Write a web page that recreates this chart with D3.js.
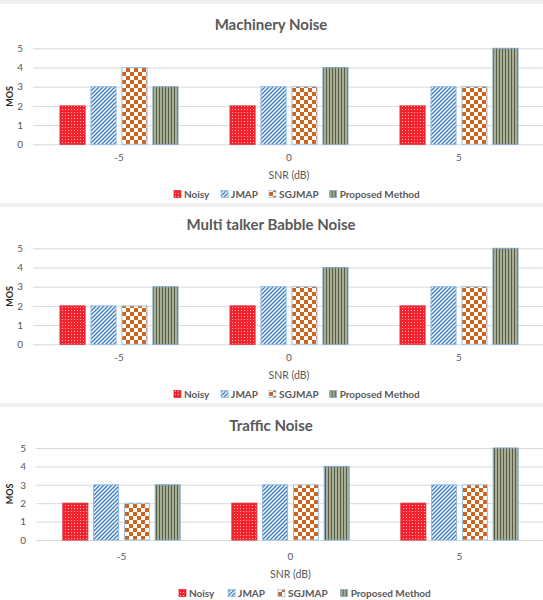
<!DOCTYPE html>
<html><head><meta charset="utf-8">
<script src="https://cdn.jsdelivr.net/npm/d3@7"></script>
<style>body{margin:0;background:#fff}svg{display:block}</style>
</head><body><div id="chart"></div>
<script>
const categories = ["-5", "0", "5"];
const seriesNames = ["Noisy", "JMAP", "SGJMAP", "Proposed Method"];
const titles = ["Machinery Noise", "Multi talker Babble Noise", "Traffic Noise"];
const machinery = [[2, 3, 4, 3], [2, 3, 3, 4], [2, 3, 3, 5]];
const babble    = [[2, 2, 2, 3], [2, 3, 3, 4], [2, 3, 3, 5]];
const traffic   = [[2, 3, 2, 3], [2, 3, 3, 4], [2, 3, 3, 5]];
const yTicks = [0, 1, 2, 3, 4, 5];
const xTitle = "SNR (dB)";
const yTitle = "MOS";

const W = 543, H = 600;
const svg = d3.select("#chart").append("svg").attr("width", W).attr("height", H);
const defs = svg.append("defs");

function pat(id, w, h, build) {
  const p = defs.append("pattern").attr("id", id).attr("patternUnits", "userSpaceOnUse")
    .attr("width", w).attr("height", h);
  build(p);
}
pat("p0", 3, 3, p => {
  p.append("rect").attr("width", 3).attr("height", 3).attr("fill", "#f5222d");
  p.append("rect").attr("x", 1).attr("y", 1).attr("width", 1).attr("height", 1).attr("fill", "#ffb3b8");
});
pat("p1", 4, 4, p => {
  p.append("rect").attr("width", 4).attr("height", 4).attr("fill", "#fff");
  p.append("path").attr("d", "M-1,1 L1,-1 M0,4 L4,0 M3,5 L5,3").attr("stroke", "#3a7cc4").attr("stroke-width", 1.4);
});
pat("p2", 8, 8, p => {
  p.append("rect").attr("width", 8).attr("height", 8).attr("fill", "#fff");
  p.append("rect").attr("width", 4).attr("height", 4).attr("fill", "#d0621c");
  p.append("rect").attr("x", 4).attr("y", 4).attr("width", 4).attr("height", 4).attr("fill", "#d0621c");
});
pat("p3", 3, 3, p => {
  p.append("rect").attr("width", 3).attr("height", 3).attr("fill", "#a9ad93");
  p.append("rect").attr("x", 2).attr("width", 0.8).attr("height", 3).attr("fill", "#3f4a34");
});
const fills = ["url(#p0)", "url(#p1)", "url(#p2)", "url(#p3)"];
const strokes = ["#e0303a", "#8fb8e0", "#9cc2e6", "#7ea6cf"];

const font = "Lato, 'Open Sans', sans-serif";
const grey = "#595959";

const panels = [
  {data: machinery, y5: 48.3, y0: 144.3, x0: 34, x1: 544, titleY: 30, xlabY: 161, snrY: 179, legY: 198, legC: 297, legGap: 11},
  {data: babble,    y5: 248.3, y0: 344.3, x0: 34, x1: 544, titleY: 230, xlabY: 361, snrY: 379, legY: 398, legC: 297, legGap: 11},
  {data: traffic,   y5: 448, y0: 540, x0: 37, x1: 544, titleY: 431, xlabY: 560, snrY: 578, legY: 597, legC: 305, legGap: 13}
];

[0, 203, 403].forEach(s => {
  svg.append("rect").attr("x", 0).attr("y", s).attr("width", W).attr("height", 4).attr("fill", "#f0f0f0");
});

panels.forEach((P, pi) => {
  const g = svg.append("g");
  const y = d3.scaleLinear().domain([0, 5]).range([P.y0, P.y5]);
  const x = d3.scaleBand().domain(categories).range([P.x0, P.x1]).paddingInner(0).paddingOuter(0);
  const xs = d3.scaleBand().domain(seriesNames).range([0, x.bandwidth()]).paddingInner(0.19).paddingOuter(0.84);

  g.append("text").attr("x", 271).attr("y", P.titleY).attr("text-anchor", "middle")
    .attr("font-family", font).attr("font-weight", "bold").attr("font-size", 15).attr("fill", grey)
    .text(titles[pi]);

  const yAxis = d3.axisLeft(y).tickValues(yTicks).tickSize(-(P.x1 - P.x0 + 2)).tickPadding(10).tickFormat(d3.format("d"));
  const ya = g.append("g").attr("transform", `translate(${P.x0 - 1},0)`).call(yAxis);
  ya.select(".domain").remove();
  ya.selectAll(".tick line").attr("stroke", "#d9d9d9").attr("stroke-width", 1);
  ya.selectAll(".tick text").attr("font-family", font).attr("font-size", 10).attr("fill", grey);

  g.append("text").attr("transform", `translate(10,${(P.y0 + P.y5) / 2}) rotate(-90)`)
    .attr("text-anchor", "middle").attr("dy", "0.35em")
    .attr("font-family", font).attr("font-weight", "bold").attr("font-size", 9).attr("fill", "#262626")
    .text(yTitle);

  categories.forEach((c, ci) => {
    const gg = g.append("g").attr("transform", `translate(${x(c)},0)`);
    gg.selectAll("rect").data(P.data[ci]).join("rect")
      .attr("x", (d, i) => xs(seriesNames[i]))
      .attr("y", d => y(d))
      .attr("width", xs.bandwidth())
      .attr("height", d => y(0) - y(d))
      .attr("fill", (d, i) => fills[i])
      .attr("stroke", (d, i) => strokes[i])
      .attr("stroke-width", 1);
  });

  const xa = g.append("g").attr("transform", `translate(0,${P.y0})`)
    .call(d3.axisBottom(x).tickSize(0).tickPadding(0));
  xa.select(".domain").remove();
  xa.selectAll(".tick text").attr("dy", null).attr("y", P.xlabY - P.y0)
    .attr("font-family", font).attr("font-size", 10).attr("fill", grey);

  g.append("text").attr("x", (P.x0 + P.x1) / 2).attr("y", P.snrY).attr("text-anchor", "middle")
    .attr("font-family", font).attr("font-size", 10.5).attr("fill", grey).text(xTitle);

  const lg = g.append("g");
  const items = lg.selectAll("g").data(seriesNames).join("g");
  items.append("rect").attr("width", 7).attr("height", 7).attr("y", P.legY - 7.5)
    .attr("fill", (d, i) => fills[i]).attr("stroke", (d, i) => strokes[i]).attr("stroke-width", 0.8);
  items.append("text").attr("x", 10).attr("y", P.legY)
    .attr("font-family", font).attr("font-weight", "bold").attr("font-size", 10).attr("fill", grey)
    .text(d => d);
  const widths = [];
  items.each(function () { widths.push(this.getBBox().width); });
  const total = d3.sum(widths) + P.legGap * (widths.length - 1);
  let cx = P.legC - total / 2;
  items.attr("transform", (d, i) => {
    const t = `translate(${cx},0)`;
    cx += widths[i] + P.legGap;
    return t;
  });
});
</script></body></html>
